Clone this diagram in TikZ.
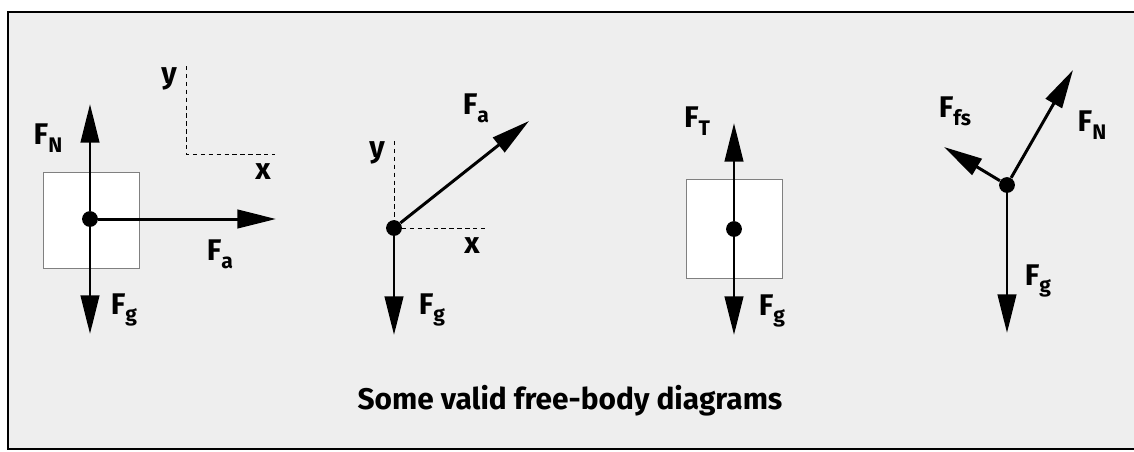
\documentclass[tikz,border=0pt]{standalone}
\usepackage{fontspec}
\setmainfont{Fira Sans}
\usetikzlibrary{arrows.meta}
\definecolor{panel}{HTML}{EEEEEE}
\newcommand{\frc}[1]{F\raisebox{-0.5ex}{\fontsize{12}{12}\selectfont #1}}
\tikzset{
  force/.style={line width=1.7pt,-{Triangle[length=22pt,width=10.5pt]}},
  axis/.style={line width=0.5pt,dash pattern=on 2.5pt off 2pt},
  dot/.style={circle,fill,inner sep=0pt,minimum size=9pt},
  lbl/.style={font=\fontsize{17}{17}\selectfont\bfseries},
  body/.style={draw=gray,fill=white,line width=0.5pt}
}
\begin{document}
\begin{tikzpicture}[x=0.02cm,y=-0.02cm]
\useasboundingbox (0,0) rectangle (1134,451);
\fill[panel] (8,12) rectangle (1134,449);
\draw[line width=1.3pt] (1134,12) -| (8,449) -- (1134,449);

% block pushed along the floor
\draw[body] (43,172) rectangle (139,268);
\node[dot] (d1) at (90,219) {};
\coordinate (n1) at (90,104);
\coordinate (g1) at (90,334);
\coordinate (a1) at (276,219);
\foreach \t in {n1,g1,a1}
  \draw[force] (d1) -- (\t);
\node[lbl] (lN1) at (48,138) {\frc{N}};
\node[lbl] (la1) at (220,254) {\frc{a}};
\node[lbl] (lg1) at (124,310) {\frc{g}};
\coordinate (o1) at (186,154);
\draw[axis] (186,66) -- (o1) -- (275,154);
\node[lbl] (y1) at (169,79) {y};
\node[lbl] (x1) at (263,172) {x};

% point pulled at an angle
\node[dot] (d2) at (394,228) {};
\coordinate (a2) at (529,121);
\coordinate (g2) at (394,335);
\draw[axis] (394,141) -- (d2.center) -- (485,228);
\foreach \t in {a2,g2}
  \draw[force] (d2) -- (\t);
\node[lbl] (la2) at (476,108) {\frc{a}};
\node[lbl] (lg2) at (432,310) {\frc{g}};
\node[lbl] (y2) at (377,153) {y};
\node[lbl] (x2) at (472,246) {x};

% hanging block
\draw[body] (686,179) rectangle (782,278);
\node[dot] (d3) at (734,229) {};
\coordinate (t3) at (734,123);
\coordinate (g3) at (734,335);
\foreach \t in {t3,g3}
  \draw[force] (d3) -- (\t);
\node[lbl] (lT3) at (697,121) {\frc{T}};
\node[lbl] (lg3) at (772,311) {\frc{g}};

% block on a slope
\node[dot] (d4) at (1007,185) {};
\coordinate (n4) at (1073,70);
\coordinate (f4) at (944,147);
\coordinate (g4) at (1007,333);
\foreach \t in {n4,f4,g4}
  \draw[force] (d4) -- (\t);
\node[lbl] (lf4) at (955,111) {\frc{fs}};
\node[lbl] (lN4) at (1092,125) {\frc{N}};
\node[lbl] (lg4) at (1038,281) {\frc{g}};

\node[font=\fontsize{17}{17}\selectfont\bfseries] (cap) at (570,401) {Some valid free-body diagrams};
\end{tikzpicture}
\end{document}
